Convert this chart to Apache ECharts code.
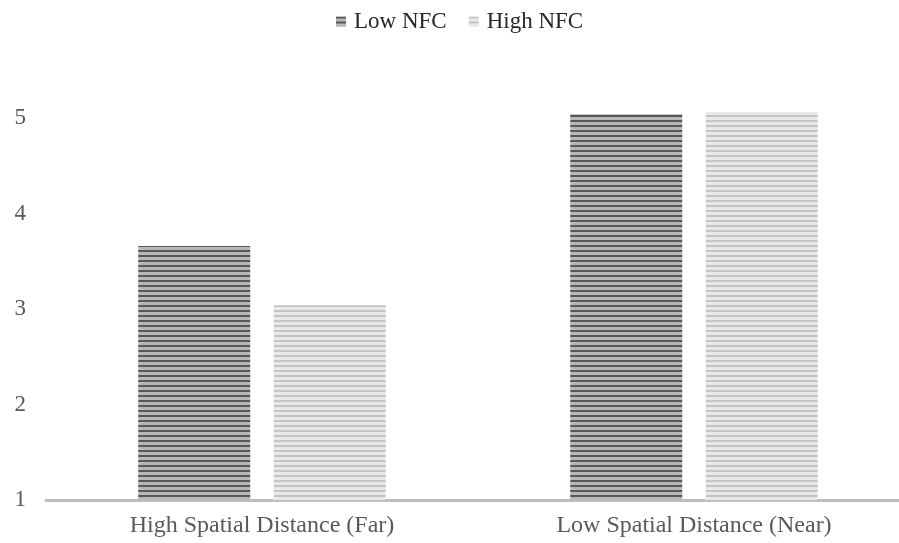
<!DOCTYPE html>
<html>
<head>
<meta charset="utf-8">
<script src="https://cdn.jsdelivr.net/npm/echarts@6/dist/echarts.min.js"></script>
<style>
  html, body { margin: 0; padding: 0; background: #fff; overflow: hidden; }
  /* plot area runs slightly past the right edge of the view */
  #chart { width: 910px; height: 543px; }
</style>
</head>
<body>
<div id="chart"></div>
<script>
// Mean ratings by spatial distance and need for cognition
const categories = ['High Spatial Distance (Far)', 'Low Spatial Distance (Near)'];
const lowNFC = [3.66, 5.04];
const highNFC = [3.04, 5.06];
const seriesNames = ['Low NFC', 'High NFC'];
const yTicks = [1, 2, 3, 4, 5];

// Horizontal stripe fill used for the bars
function stripes(dark, light) {
  const c = document.createElement('canvas');
  c.width = 4; c.height = 5;
  const g = c.getContext('2d');
  g.fillStyle = light; g.fillRect(0, 0, 4, 5);
  g.fillStyle = dark; g.fillRect(0, 0, 4, 2);
  return { image: c, repeat: 'repeat' };
}

const chart = echarts.init(document.getElementById('chart'), null, { renderer: 'canvas' });
const font = '"Liberation Serif", "Times New Roman", serif';

chart.setOption({
  animation: false,
  backgroundColor: '#ffffff',
  legend: {
    top: 5,
    left: 331,
    itemWidth: 10,
    itemHeight: 10,
    itemGap: 22,
    icon: 'rect',
    textStyle: { fontFamily: font, fontSize: 23, color: '#262626', padding: [0, 0, 0, 3] },
    data: seriesNames
  },
  grid: { left: 46, top: 22.5, right: 0, bottom: 43, containLabel: false },
  xAxis: {
    type: 'category',
    data: categories,
    axisLine: { lineStyle: { color: '#bfbfbf', width: 3 } },
    axisTick: { show: false },
    axisLabel: { fontFamily: font, fontSize: 24, color: '#595959', margin: 14 }
  },
  yAxis: {
    type: 'value',
    min: 1, max: 6, interval: 1,
    splitLine: { show: false },
    axisLine: { show: false },
    axisTick: { show: false },
    axisLabel: {
      fontFamily: font, fontSize: 23, color: '#595959', margin: 20,
      formatter: v => (yTicks.indexOf(v) >= 0 ? String(v) : '')
    }
  },
  series: [
    {
      name: seriesNames[0], type: 'bar', data: lowNFC,
      barWidth: 112, barGap: '21%',
      itemStyle: { color: stripes('#575757', '#b8b8b8') }
    },
    {
      name: seriesNames[1], type: 'bar', data: highNFC,
      barWidth: 112,
      itemStyle: { color: stripes('#c4c4c4', '#e8e8e8') }
    }
  ]
});
</script>
</body>
</html>
